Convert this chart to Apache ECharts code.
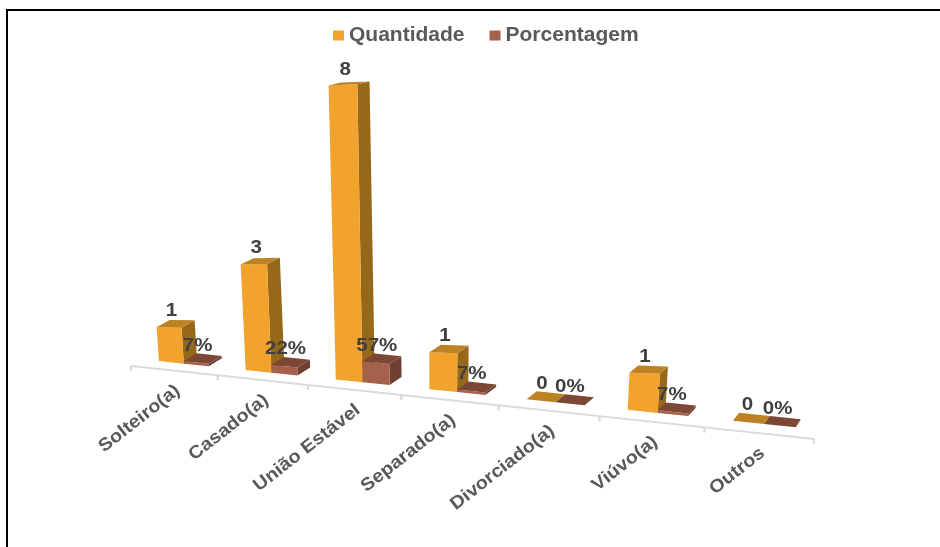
<!DOCTYPE html>
<html>
<head>
<meta charset="utf-8">
<style>
  html, body { margin: 0; padding: 0; background: #fff; }
  #chart { position: absolute; left: 0; top: 0; width: 940px; height: 547px; }
  #frame { position: absolute; left: 6px; top: 9px; right: 0; bottom: 0; border-top: 2px solid #000; border-left: 2px solid #000; pointer-events: none; }
</style>
<script src="https://cdn.jsdelivr.net/npm/echarts@6/dist/echarts.min.js"></script>
</head>
<body>
<div id="chart"></div>
<div id="frame"></div>
<script>
const categories = ['Solteiro(a)', 'Casado(a)', 'União Estável', 'Separado(a)', 'Divorciado(a)', 'Viúvo(a)', 'Outros']
const quantidade = [1, 3, 8, 1, 0, 1, 0]
const porcentagem = [7, 22, 57, 7, 0, 7, 0]

const FONT = 'bold 18px "Liberation Sans", Arial, sans-serif'
const GRID_LEFT = 131
const GRID_WIDTH = 683
const SLOPE = 0.107

// the original is a tilted 3D column chart, so cartesian coords get warped into that view
const warp = (x) => {
  const t = (x - GRID_LEFT) / GRID_WIDTH
  return GRID_LEFT + GRID_WIDTH * t / (1.145 - 0.145 * t)
}

const axisPoint = (api, u) => {
  const p = api.coord([u, 0])
  const x = warp(p[0])
  return [x, p[1] + SLOPE * (x - GRID_LEFT)]
}

const project = (api, u, v, back) => {
  const base = api.coord([u, 0])
  const top = api.coord([u, v])
  let bx = warp(base[0])
  bx += (450 - bx) * 0.0105
  const by = base[1] + SLOPE * (bx - GRID_LEFT) - 8 - (bx - 184) * 0.003
  const shrink = Math.min(1, (34 + (bx - 175) * 0.017) / 37)
  const h = (base[1] - top[1]) * shrink
  let x = bx + (bx - 430) * 0.00026 * h
  let y = by - h
  if (back) {
    x += 13 - 0.00002 * (bx - 160) * (bx - 160)
    y -= 8 - h * 0.017
  }
  return [x, y]
}

const face = (points, fill) => ({ type: 'polygon', shape: { points }, style: { fill } })

const barSeries = (name, values, start, colors, labelOf, labelDx) => ({
  name,
  type: 'custom',
  coordinateSystem: 'cartesian2d',
  silent: true,
  clip: false,
  itemStyle: { color: colors.front },
  data: values.map((v, i) => [i, name === 'Porcentagem' ? v / 100 : v]),
  renderItem: (params, api) => {
    const i = api.value(0)
    const v = api.value(1)
    const u0 = i + start
    const u1 = u0 + 0.29
    const fl = project(api, u0, 0, false)
    const fr = project(api, u1, 0, false)
    const tl = project(api, u0, v, false)
    const tr = project(api, u1, v, false)
    const br = project(api, u1, 0, true)
    const btl = project(api, u0, v, true)
    const btr = project(api, u1, v, true)
    // taller columns have a nearly level top edge in the original
    if (name === 'Quantidade' && v > 0) {
      const rise = (fr[0] - fl[0]) * 0.07
      tr[1] -= rise
      btr[1] -= rise
    }
    const children = []
    if (v > 0) {
      children.push(face([fr, tr, btr, br], colors.side))
      children.push(face([fl, fr, tr, tl], colors.front))
    }
    children.push(face([tl, tr, btr, btl], colors.top))
    children.push({
      type: 'text',
      z2: 10,
      x: (tl[0] + tr[0] + btl[0] + btr[0]) / 4 + labelDx,
      y: (tl[1] + tr[1] + btl[1] + btr[1]) / 4 - 13,
      scaleX: 1.14,
      style: {
        text: labelOf(params.dataIndex),
        fill: '#404040',
        font: FONT,
        align: 'center',
        verticalAlign: 'middle'
      }
    })
    return { type: 'group', children }
  }
})

const axisSeries = {
  name: 'eixo',
  type: 'custom',
  coordinateSystem: 'cartesian2d',
  silent: true,
  clip: false,
  z: 1,
  data: categories.map((c, i) => [i, 0]),
  renderItem: (params, api) => {
    const i = api.value(0)
    const a = axisPoint(api, i)
    const b = axisPoint(api, i + 1)
    const mid = axisPoint(api, i + 0.5)
    const line = { stroke: '#DADADA', lineWidth: 2 }
    const children = [
      { type: 'line', shape: { x1: a[0], y1: a[1], x2: b[0], y2: b[1] }, style: line },
      { type: 'line', shape: { x1: a[0], y1: a[1], x2: a[0], y2: a[1] + 5 }, style: line },
      { type: 'line', shape: { x1: b[0], y1: b[1], x2: b[0], y2: b[1] + 5 }, style: line },
      {
        type: 'text',
        x: mid[0] + 4,
        y: mid[1] + 18,
        rotation: 38 * Math.PI / 180,
        scaleX: 1.1,
        style: {
          text: categories[params.dataIndex],
          fill: '#595959',
          font: FONT,
          align: 'right',
          verticalAlign: 'middle'
        }
      }
    ]
    return { type: 'group', children }
  }
}

const chart = echarts.init(document.getElementById('chart'))
chart.setOption({
  animation: false,
  backgroundColor: '#fff',
  legend: {
    data: ['Quantidade', 'Porcentagem'],
    left: 328,
    top: 20,
    icon: 'rect',
    itemWidth: 11,
    itemHeight: 10,
    itemGap: 25,
    selectedMode: false,
    textStyle: { color: '#595959', fontFamily: 'Liberation Sans', fontWeight: 'bold', fontSize: 21 }
  },
  grid: { left: GRID_LEFT, width: GRID_WIDTH, top: 70, height: 296 },
  xAxis: { type: 'value', min: 0, max: 7, show: false },
  yAxis: { type: 'value', min: 0, max: 8, show: false },
  series: [
    axisSeries,
    barSeries('Quantidade', quantidade, 0.29, { front: '#F2A32D', top: '#BC8223', side: '#966819' }, (i) => String(quantidade[i]), -4),
    barSeries('Porcentagem', porcentagem, 0.58, { front: '#A5614A', top: '#7C4735', side: '#6E4034' }, (i) => porcentagem[i] + '%', -5)
  ]
})
</script>
</body>
</html>
